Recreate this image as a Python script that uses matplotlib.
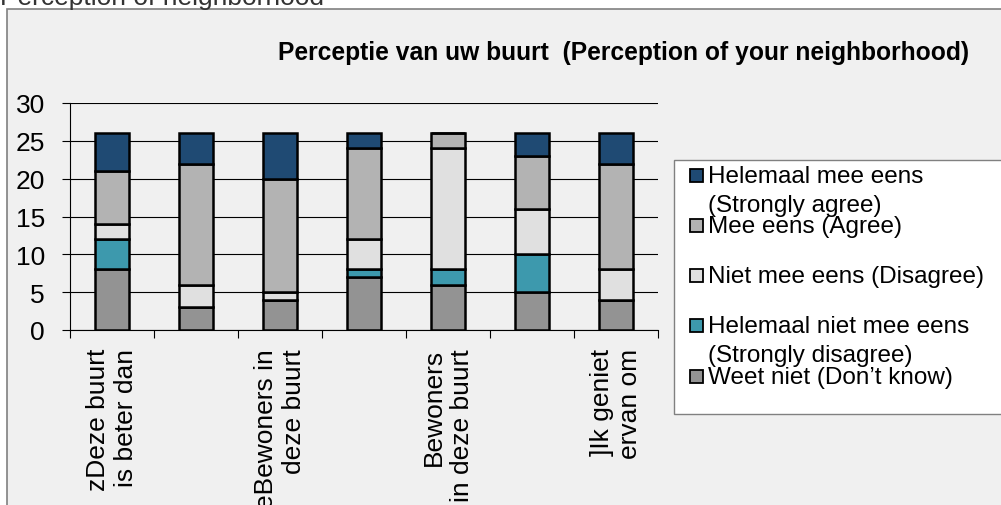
import numpy as np
import matplotlib
matplotlib.use('Agg')
import matplotlib.pyplot as plt
from matplotlib.patches import Rectangle

plt.rcParams['font.family'] = ['Liberation Sans', 'DejaVu Sans']

cats = ['zDeze buurt\nis beter dan', '', 'eBewoners in\ndeze buurt', '',
        'Bewoners\nin deze buurt', '', ']Ik geniet\nervan om']
series = ['Weet niet (Don\u2019t know)', 'Helemaal niet mee eens\n(Strongly disagree)',
          'Niet mee eens (Disagree)', 'Mee eens (Agree)',
          'Helemaal mee eens\n(Strongly agree)']
weet = [8, 3, 4, 7, 6, 5, 4]
helemaal_niet = [4, 0, 0, 1, 2, 5, 0]
niet = [2, 3, 1, 4, 16, 6, 4]
mee = [7, 16, 15, 12, 2, 7, 14]
helemaal_mee = [5, 4, 6, 2, 0, 3, 4]
colors = ['#939393', '#3d99ad', '#e0e0e0', '#b3b3b3', '#1f4a73']
yticks = [0, 5, 10, 15, 20, 25, 30]

W, H = 1001, 506
fig = plt.figure(figsize=(W/100., H/100.), dpi=100)
fig.patch.set_facecolor('white')
# chart area frame
fig.patches.append(Rectangle((7./W, -0.1), 1.1, 1.1-10./H, transform=fig.transFigure,
                             facecolor='#f0f0f0', edgecolor='#808080', lw=1.2, zorder=-5))
fig.text(0, 1-5./H, 'Perception of neighborhood', fontsize=19, color='#333333',
         va='baseline', ha='left')

ax = fig.add_axes([70./W, (H-331.)/H, (658.-70)/W, (331.-104)/H])
ax.set_facecolor('#f0f0f0')
x = np.arange(len(cats))
data = [weet, helemaal_niet, niet, mee, helemaal_mee]
bottom = np.zeros(len(cats))
for vals, c in zip(data, colors):
  vals = np.array(vals)
  ax.bar(x, vals, 0.4, bottom=bottom, color=c, edgecolor='black', lw=1.8, zorder=3)
  bottom += vals

ax.set_xlim(-0.5, len(cats)-0.5)
ax.set_ylim(0, 30)
ax.set_yticks(yticks)
ax.yaxis.grid(True, color='black', lw=0.8, zorder=0)
ax.set_axisbelow(True)
for s in ['top', 'right']:
  ax.spines[s].set_visible(False)
ax.spines['left'].set_linewidth(0.8)
ax.spines['bottom'].set_linewidth(0.8)
ax.tick_params(axis='y', length=6, width=0.8, pad=12, labelsize=19)
ax.set_xticks(x)
ax.set_xticklabels(cats, rotation=90, va='top', ha='center', multialignment='right', fontsize=19)
ax.tick_params(axis='x', which='major', length=0, pad=13)
ax.set_xticks(np.arange(len(cats)+1)-0.5, minor=True)
ax.tick_params(axis='x', which='minor', length=6, width=0.8)

fig.text(278./W, 1-60./H, 'Perceptie van uw buurt  (Perception of your neighborhood)',
         fontsize=17.7, fontweight='bold', va='baseline', ha='left')

# legend drawn by hand
fig.patches.append(Rectangle((674./W, 1-415./H), 0.4, (415.-161)/H, transform=fig.transFigure,
                             facecolor='white', edgecolor='#808080', lw=1.0, zorder=1))
ys = [176, 226, 276, 326, 377]
for i in range(5):
  j = 4-i
  yc = ys[i]
  fig.patches.append(Rectangle((690./W, 1-(yc+6.5)/H), 13./W, 13./H, transform=fig.transFigure,
                               facecolor=colors[j], edgecolor='black', lw=1.3, zorder=2))
  fig.text(708./W, 1-(yc-10)/H, series[j], fontsize=17.5, va='top', ha='left',
           linespacing=1.42, zorder=3)

fig.savefig('out.png', dpi=100)
